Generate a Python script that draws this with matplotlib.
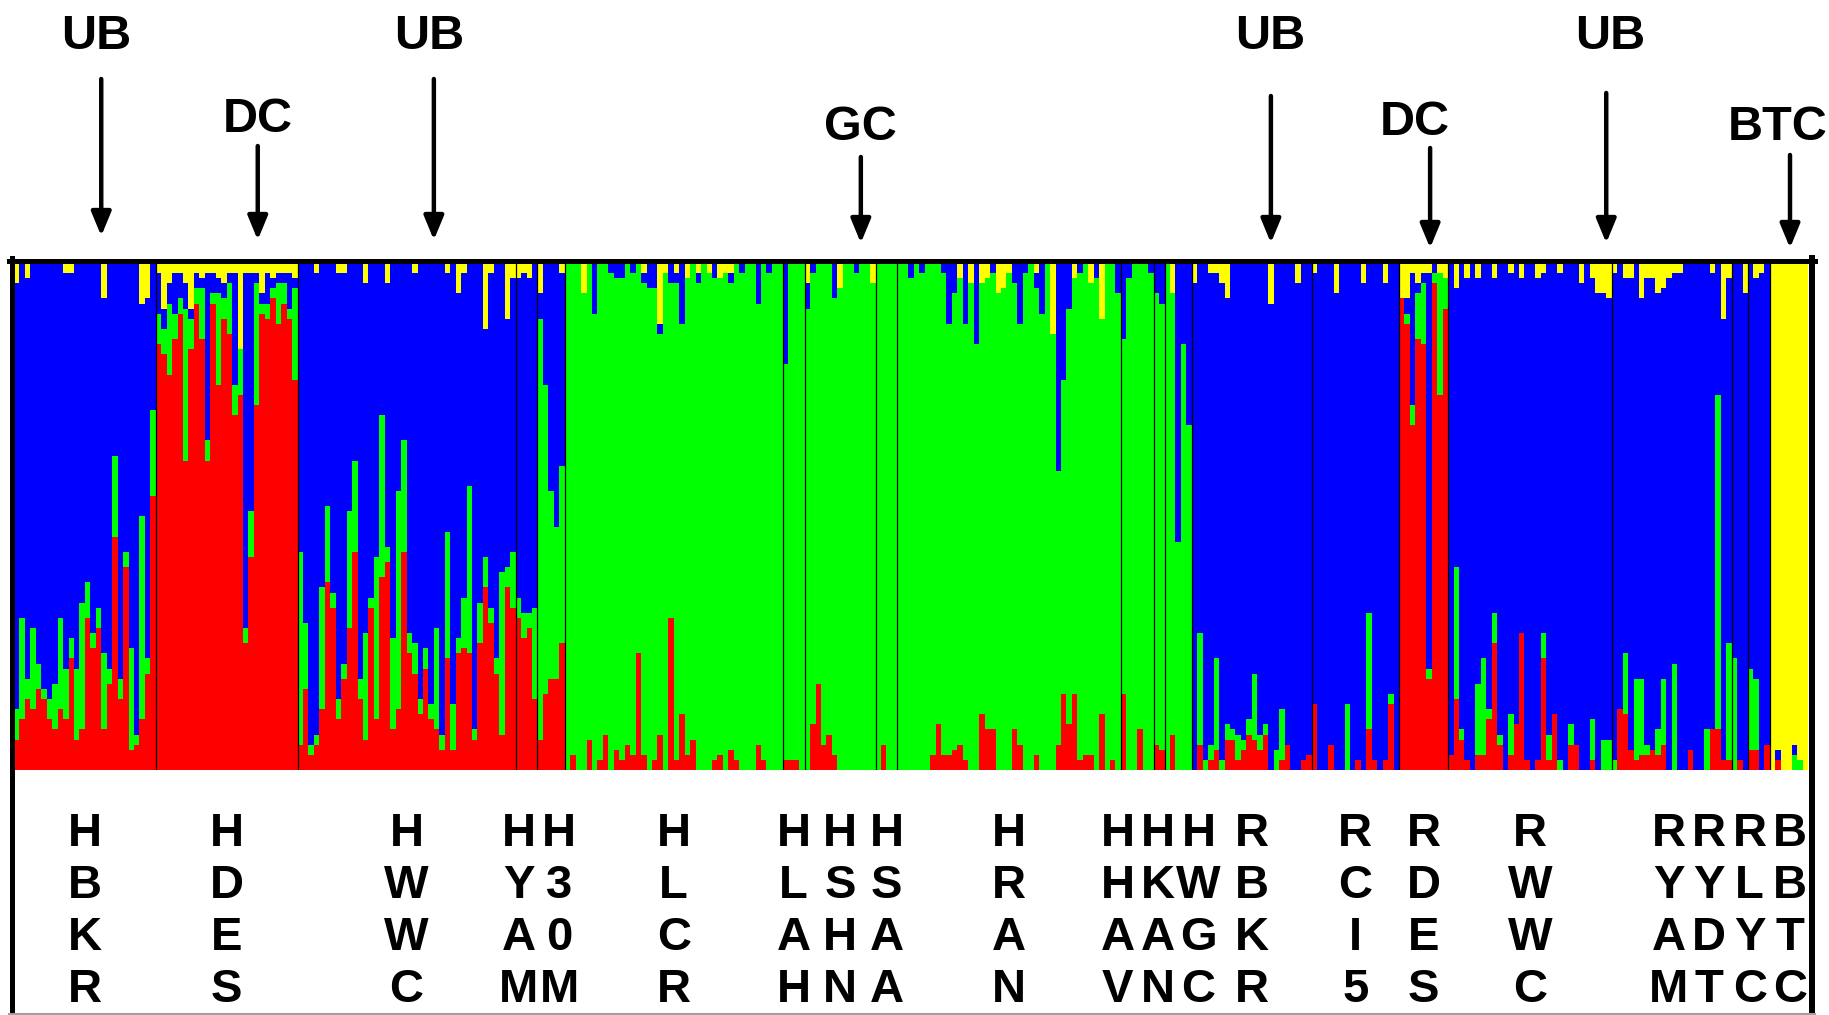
#!/usr/bin/env python3

import matplotlib
matplotlib.use("Agg")
import matplotlib.pyplot as plt
import matplotlib.lines as mlines
from matplotlib.transforms import blended_transform_factory

# STRUCTURE clusters, stacked bottom -> top
clusters = ["red", "green", "blue", "yellow"]
colours = ["#ff0000", "#00ff00", "#0000ff", "#ffff00"]

# membership per individual (%), only the minor clusters, in stacking order.
# the population's main cluster gets whatever is left
HBKR = [(6, 6, 4), (10, 20, 0), (14, 4, 3), (12, 16, 0), (16, 5, 0), (14, 2, 0), (10, 4, 0),
        (8, 9, 0), (12, 18, 0), (10, 10, 2), (22, 4, 2), (6, 14, 0), (8, 25, 0), (30, 7, 0),
        (24, 3, 0), (28, 4, 0), (8, 15, 7), (17, 3, 0), (46, 16, 0), (14, 4, 0), (40, 3, 0),
        (4, 20, 0), (5, 2, 0), (10, 40, 8), (19, 3, 7), (54, 17, 0)]
HDES = [(6, 8, 2), (5, 4, 9), (14, 4, 4), (5, 8, 2), (3, 5, 2), (30, 5, 4), (6, 2, 9),
        (3, 3, 2), (10, 2, 3), (4, 33, 2), (2, 4, 2), (18, 3, 3), (4, 3, 4), (10, 2, 2),
        (6, 22, 2), (9, 0, 17), (3, 70, 2), (9, 47, 2), (24, 2, 2), (2, 2, 6), (3, 6, 2),
        (2, 2, 3), (8, 2, 2), (4, 2, 2), (2, 7, 2), (18, 2, 3)]
HWWC = [(5, 38, 0), (16, 13, 0), (3, 2, 0), (5, 2, 2), (12, 24, 0), (37, 15, 0), (32, 3, 0),
        (10, 4, 2), (18, 3, 2), (28, 23, 0), (43, 18, 0), (14, 4, 0), (6, 21, 4), (32, 2, 0),
        (10, 32, 0), (38, 32, 0), (41, 3, 4), (8, 18, 0), (12, 43, 0), (43, 22, 0), (23, 4, 0),
        (19, 6, 2), (11, 3, 0), (20, 4, 0), (10, 3, 0), (8, 20, 0), (4, 3, 0), (22, 25, 2),
        (4, 9, 0), (23, 3, 6), (24, 10, 2), (23, 33, 0), (6, 2, 0), (25, 8, 0), (36, 6, 13),
        (29, 3, 2), (19, 3, 0), (7, 32, 0), (36, 4, 11), (32, 11, 3)]
HYAM = [(30, 4, 3), (26, 5, 2), (28, 3, 3), (14, 18, 0)]
H30M = [(6, 5, 6), (15, 24, 0), (18, 45, 0), (18, 52, 0), (25, 38, 2)]
HLCR = [(0, 0, 0), (3, 0, 0), (0, 0, 0), (0, 0, 6), (6, 0, 0), (0, 10, 0), (2, 0, 0), (7, 0, 0),
        (0, 2, 0), (4, 3, 0), (2, 3, 0), (5, 0, 0), (3, 2, 0), (23, 0, 0), (3, 2, 2), (0, 5, 0),
        (2, 5, 0), (7, 2, 12), (0, 0, 2), (30, 4, 0), (2, 2, 2), (11, 12, 0), (3, 0, 3),
        (6, 0, 0), (0, 2, 2), (0, 0, 0), (0, 0, 2), (2, 3, 0), (3, 0, 3), (0, 0, 2), (4, 2, 2),
        (2, 0, 0), (0, 2, 0), (0, 0, 0), (0, 0, 0), (5, 8, 0), (2, 0, 0), (0, 2, 0), (0, 0, 0),
        (0, 0, 0)]
HLAH = [(2, 20, 0), (2, 0, 0), (2, 0, 0), (0, 0, 0)]
HSHN = [(0, 5, 4), (9, 2, 0), (17, 0, 0), (5, 0, 0), (7, 0, 0), (3, 7, 0), (0, 0, 5),
        (0, 0, 0), (0, 0, 0), (0, 2, 0), (0, 0, 0), (0, 0, 0), (0, 0, 4)]
HSAA = [(0, 0, 0), (5, 0, 0), (0, 0, 0), (0, 0, 0)]
HRAN = [(0, 0, 0), (0, 0, 0), (0, 3, 0), (0, 0, 0), (0, 2, 0), (0, 0, 0), (3, 0, 0), (9, 0, 0),
        (3, 2, 0), (3, 12, 0), (4, 6, 0), (5, 0, 3), (2, 12, 0), (0, 0, 4), (0, 16, 0),
        (11, 0, 4), (8, 0, 3), (8, 2, 0), (0, 0, 6), (0, 0, 5), (0, 0, 2), (8, 4, 0),
        (5, 12, 0), (0, 2, 0), (0, 0, 0), (3, 3, 2), (0, 10, 0), (0, 0, 0), (0, 0, 14),
        (5, 41, 0), (15, 23, 0), (9, 9, 0), (15, 0, 3), (2, 2, 0), (3, 0, 0), (3, 0, 4),
        (0, 3, 0), (11, 0, 11), (0, 0, 0), (2, 0, 0), (0, 6, 0)]
HHAV = [(15, 15, 0), (0, 3, 0), (0, 0, 0), (8, 0, 0), (0, 0, 0), (0, 2, 0)]
HKAN = [(5, 6, 0), (4, 8, 0)]
HWGC = [(0, 0, 0), (7, 0, 6), (0, 55, 0), (0, 16, 0), (0, 32, 0)]
RBKR = [(0, 0, 4), (5, 22, 0), (0, 2, 0), (2, 3, 2), (4, 18, 2), (0, 2, 4), (6, 3, 7),
        (6, 2, 0), (2, 5, 0), (4, 2, 0), (7, 3, 0), (6, 13, 0), (4, 3, 0), (7, 2, 0),
        (0, 0, 8), (0, 4, 0), (2, 10, 0), (5, 0, 0), (0, 0, 0), (0, 0, 4), (2, 0, 0), (3, 0, 0)]
RCI5 = [(13, 0, 2), (0, 0, 0), (0, 0, 0), (5, 0, 0), (0, 0, 6), (0, 0, 0), (0, 13, 0),
        (0, 0, 0), (2, 0, 0), (0, 0, 4), (8, 23, 0), (2, 0, 0), (0, 0, 0), (2, 0, 4),
        (13, 2, 0), (0, 0, 0)]
RDES = [(0, 0, 7), (2, 3, 7), (4, 26, 2), (9, 2, 4), (12, 2, 2), (2, 78, 2), (2, 2, 0),
        (24, 0, 2), (6, 0, 3)]
RWWC = [(3, 0, 0), (14, 26, 5), (6, 2, 0), (2, 0, 3), (0, 0, 0), (3, 14, 3), (3, 19, 0),
        (10, 2, 0), (25, 6, 3), (5, 2, 0), (0, 0, 0), (3, 8, 2), (9, 0, 0), (27, 0, 3),
        (2, 0, 0), (0, 0, 0), (2, 0, 3), (22, 5, 2), (2, 5, 0), (11, 0, 0), (0, 2, 2),
        (0, 0, 0), (5, 4, 0), (5, 0, 0), (0, 0, 4), (0, 0, 0), (2, 8, 3), (0, 0, 6),
        (0, 6, 6), (0, 6, 7)]
RYAM = [(0, 2, 2), (12, 0, 0), (11, 12, 3), (4, 0, 3), (2, 16, 0), (3, 15, 7), (3, 2, 3),
        (4, 0, 3), (3, 5, 6), (5, 13, 5), (0, 0, 3), (0, 21, 2), (0, 0, 2), (0, 0, 0),
        (4, 0, 0), (0, 0, 0), (0, 0, 0), (0, 8, 0), (8, 0, 2), (8, 66, 0), (2, 0, 11),
        (2, 23, 3)]
RYDT = [(0, 22, 0), (2, 0, 0), (0, 0, 6)]
RLYC = [(4, 16, 0), (4, 14, 3), (0, 0, 2), (5, 0, 0)]
BBTC = [(0, 0, 0), (2, 0, 2), (0, 0, 0), (0, 0, 0), (0, 3, 2), (0, 2, 0), (0, 0, 0)]

populations = ["HBKR", "HDES", "HWWC", "HYAM", "H30M", "HLCR", "HLAH", "HSHN", "HSAA",
               "HRAN", "HHAV", "HKAN", "HWGC", "RBKR", "RCI5", "RDES", "RWWC", "RYAM",
               "RYDT", "RLYC", "BBTC"]
main_cluster = ["blue", "red", "blue", "blue", "green", "green", "green", "green", "green",
                "green", "green", "green", "green", "blue", "blue", "red", "blue", "blue",
                "blue", "blue", "yellow"]
membership = [HBKR, HDES, HWWC, HYAM, H30M, HLCR, HLAH, HSHN, HSAA, HRAN, HHAV, HKAN,
              HWGC, RBKR, RCI5, RDES, RWWC, RYAM, RYDT, RLYC, BBTC]

# group annotations: text, text x, arrow x (individual index), text baseline,
# arrow top, arrow tip (pixels from the top of the figure)
groups = [("UB", 15.0, 16.0, 49, 79, 236),
          ("DC", 44.7, 44.7, 132, 146, 240),
          ("UB", 76.1, 77.0, 49, 79, 240),
          ("GC", 155.2, 155.3, 140, 157, 243),
          ("UB", 230.3, 230.5, 49, 96, 243),
          ("DC", 256.9, 259.7, 135, 148, 248),
          ("UB", 292.7, 292.0, 49, 93, 243),
          ("BTC", 323.5, 325.7, 140, 155, 248)]

W, H = 1829, 1015


def fy(px):
    """pixel from top -> figure fraction"""
    return 1 - px / H


def fx(px):
    return px / W


# build the stacked values
comp = [[] for _ in clusters]
bounds = [0]
for main, rows in zip(main_cluster, membership):
    m = clusters.index(main)
    for minor in rows:
        vals = list(minor)
        vals.insert(m, 100 - sum(minor))
        tot = float(sum(vals))
        for k in range(4):
            comp[k].append(vals[k] / tot)
    bounds.append(bounds[-1] + len(rows))
n = bounds[-1]

fig = plt.figure(figsize=(W / 100, H / 100), dpi=100)
fig.patch.set_facecolor("white")
ax = fig.add_axes([fx(14), fy(770), fx(1808 - 14), (770 - 263) / H])

x = list(range(n))
bottom = [0.0] * n
for k in range(4):
    ax.bar(x, comp[k], bottom=bottom, width=1.0, align="edge", color=colours[k],
           linewidth=0, antialiased=False)
    bottom = [b + v for b, v in zip(bottom, comp[k])]

ax.vlines(bounds[1:-1], 0, 1, colors="black", linewidth=0.9)
ax.set_xlim(0, n)
ax.set_ylim(0, 1)
ax.axis("off")

# population labels, written vertically; crowded ones pushed apart
centers = [(bounds[i] + bounds[i + 1]) / 2 for i in range(len(populations))]
min_gap = 7.4
for _ in range(300):
    for i in range(len(centers) - 1):
        gap = centers[i + 1] - centers[i]
        if gap < min_gap:
            d = (min_gap - gap) / 2
            centers[i] -= d
            centers[i + 1] += d
    centers[-1] = min(centers[-1], n - 3.3)

trans = blended_transform_factory(ax.transData, fig.transFigure)
row_base = [846, 898, 950, 1002]
for name, cx in zip(populations, centers):
    for ch, yb in zip(name, row_base):
        fig.text(cx, fy(yb), ch, transform=trans, ha="center", va="baseline",
                 fontsize=34, fontweight="bold", family="Liberation Sans")

# group names with arrows
for label, tx, arx, ty, atop, atip in groups:
    fig.text(tx, fy(ty), label, transform=trans, ha="center", va="baseline",
             fontsize=35, fontweight="bold", family="Liberation Sans")
    ax.annotate("", xy=(arx, fy(atip)), xycoords=trans, xytext=(arx, fy(atop)),
                textcoords=trans,
                arrowprops=dict(arrowstyle="-|>,head_length=1.45,head_width=0.6",
                                mutation_scale=10, lw=3.2, color="black",
                                shrinkA=0, shrinkB=0),
                annotation_clip=False)

# frame round the plot and the label panel
fig.add_artist(mlines.Line2D([fx(9), fx(1815)], [fy(260.5), fy(260.5)], color="black",
                            linewidth=3.6, transform=fig.transFigure))
fig.add_artist(mlines.Line2D([fx(11.5), fx(11.5)], [fy(258), fy(1015)], color="black",
                            linewidth=3.6, transform=fig.transFigure))
fig.add_artist(mlines.Line2D([fx(1812), fx(1812)], [fy(258), fy(1015)], color="black",
                            linewidth=4.3, transform=fig.transFigure))
fig.add_artist(mlines.Line2D([fx(9), fx(1815)], [fy(1013.5), fy(1013.5)], color="#a0a0a0",
                            linewidth=1.5, transform=fig.transFigure))

fig.savefig("out.png", dpi=100, facecolor="white")
